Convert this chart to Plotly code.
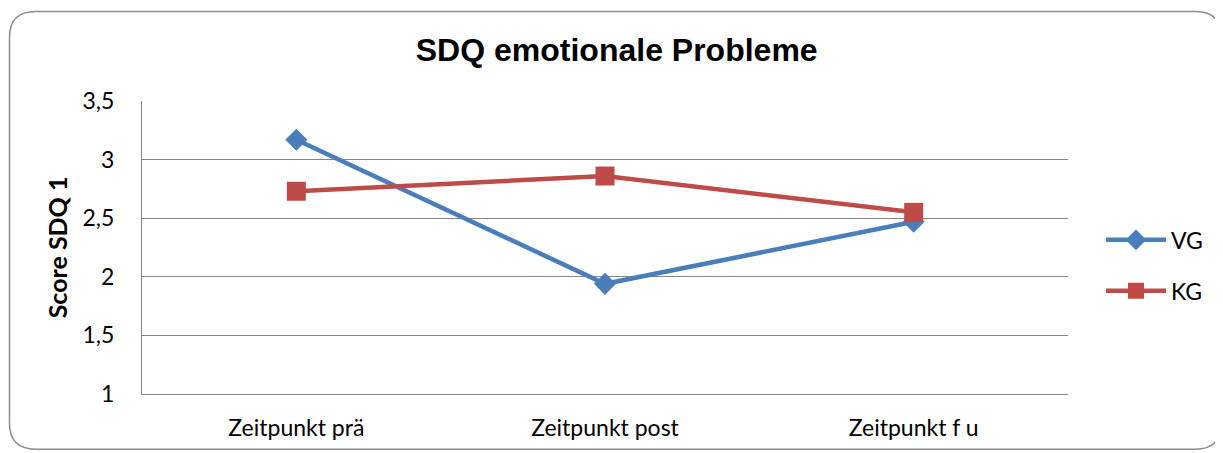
import plotly.graph_objects as go

# chart data
zeitpunkte = ["Zeitpunkt prä", "Zeitpunkt post", "Zeitpunkt f u"]
vg_werte = [3.17, 1.94, 2.47]
kg_werte = [2.73, 2.86, 2.55]
y_ticks = [1, 1.5, 2, 2.5, 3, 3.5]
y_tick_labels = ["1", "1,5", "2", "2,5", "3", "3,5"]

# the page body adds an 8px margin, so the figure is 8px smaller than the window
W, H = 1215, 445
PLOT_L, PLOT_R, PLOT_T, PLOT_B = 134, 1060, 93, 388


def px_to_paper(px, py):
    return (px - PLOT_L) / (PLOT_R - PLOT_L), (PLOT_B - py) / (PLOT_B - PLOT_T)


def rounded_rect_path(x0, y0, x1, y1, r):
    pts = [
        ("M", [(x0 + r, y0)]),
        ("L", [(x1 - r, y0)]),
        ("Q", [(x1, y0), (x1, y0 + r)]),
        ("L", [(x1, y1 - r)]),
        ("Q", [(x1, y1), (x1 - r, y1)]),
        ("L", [(x0 + r, y1)]),
        ("Q", [(x0, y1), (x0, y1 - r)]),
        ("L", [(x0, y0 + r)]),
        ("Q", [(x0, y0), (x0 + r, y0)]),
    ]
    parts = []
    for cmd, coords in pts:
        s = " ".join("%.5f,%.5f" % px_to_paper(*c) for c in coords)
        parts.append(cmd + " " + s)
    return " ".join(parts) + " Z"


fig = go.Figure()
fig.add_trace(go.Scatter(
    x=zeitpunkte, y=vg_werte, name="VG", mode="lines+markers", legendgroup="vg",
    line=dict(color="#4A7EBB", width=4.5),
    marker=dict(symbol="diamond", size=17, color="#4A7EBB"),
))
fig.add_trace(go.Scatter(
    x=zeitpunkte, y=kg_werte, name="KG", mode="lines+markers", legendgroup="kg",
    line=dict(color="#BE4B48", width=4.5),
    marker=dict(symbol="square", size=19, color="#BE4B48"),
))

fig.add_shape(type="path", xref="paper", yref="paper",
              path=rounded_rect_path(1.5, 3, 1213.5, 443.5, 26),
              line=dict(color="#8C8C8C", width=1.5), layer="below")

fig.update_layout(
    width=W, height=H,
    margin=dict(l=PLOT_L, r=W - PLOT_R, t=PLOT_T, b=H - PLOT_B),
    paper_bgcolor="white", plot_bgcolor="white",
    font=dict(family="Lato, Carlito, Calibri, sans-serif", size=23, color="black"),
    title=dict(text="<b>SDQ emotionale Probleme</b>", x=0.501, xanchor="center",
               y=1 - 42 / H, yanchor="middle",
               font=dict(family="Liberation Sans, Arial, sans-serif", size=32, color="black")),
    xaxis=dict(showgrid=False, showline=True, linecolor="#868686", linewidth=1,
               ticks="", tickfont=dict(size=23), range=[-0.5, 2.5], ticklabelstandoff=13),
    yaxis=dict(range=[1, 3.5], tickvals=y_ticks, ticktext=y_tick_labels,
               showgrid=True, gridcolor="#868686", gridwidth=1,
               showline=True, linecolor="#868686", linewidth=1,
               ticks="", ticklabelstandoff=22, zeroline=False, tickfont=dict(size=23),
               title=dict(text="<b>Score SDQ 1</b>", standoff=7, font=dict(size=25))),
    legend=dict(x=1 + 33 / (PLOT_R - PLOT_L), y=(PLOT_B - 258.5) / (PLOT_B - PLOT_T),
                yanchor="middle", xanchor="left", traceorder="grouped",
                itemwidth=60, tracegroupgap=18, font=dict(size=23),
                bgcolor="rgba(0,0,0,0)"),
    showlegend=True,
)

fig.write_html("out.html")
